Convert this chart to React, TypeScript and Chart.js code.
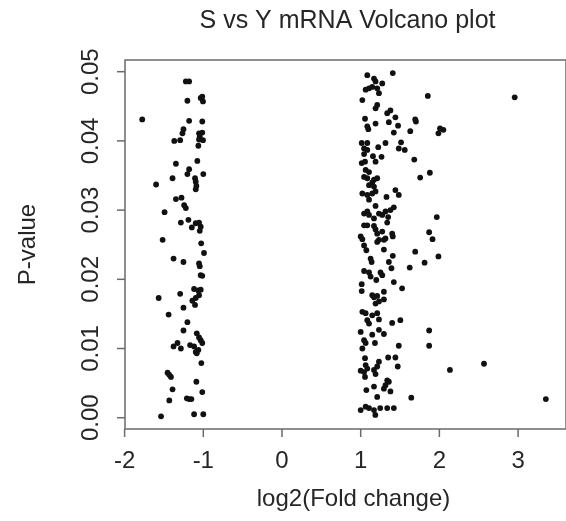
import React, { useEffect, useRef } from "react";
import { Chart, registerables } from "chart.js";

Chart.register(...registerables);

const titleText = "S vs Y mRNA Volcano plot";
const xTitle = "log2(Fold change)";
const yTitle = "P-value";

const xTicks = [-2, -1, 0, 1, 2, 3];
const xTickLabels = ["-2", "-1", "0", "1", "2", "3"];
const yTicks = [0, 0.01, 0.02, 0.03, 0.04, 0.05];
const yTickLabels = ["0.00", "0.01", "0.02", "0.03", "0.04", "0.05"];

// log2 fold change of down-regulated genes
const downFC = [
  -1.222, -1.18, -1.202, -1.033, -1.013, -1.004, -1.776, -1.18, -1.013, -1.252,
  -1.265, -1.054, -1.013, -1.045, -1.369, -1.294, -1.054, -1.004, -1.063, -1.348,
  -1.076, -1.18, -1.202, -1.0, -1.391, -1.6, -1.105, -1.096, -1.088, -1.096,
  -1.348, -1.277, -1.243, -1.222, -1.492, -1.285, -1.189, -1.146, -1.096, -1.054,
  -1.033, -1.045, -1.517, -1.027, -0.991, -1.378, -1.252, -1.054, -1.045, -1.033,
  -1.013, -1.567, -1.294, -1.117, -1.063, -1.033, -1.054, -1.096, -1.139, -1.105,
  -1.252, -1.441, -1.202, -1.252, -1.083, -1.054, -1.033, -1.013, -1.378, -1.328,
  -1.285, -1.168, -1.117, -1.096, -1.063, -1.083, -1.025, -1.454, -1.432, -1.411,
  -1.088, -1.391, -1.013, -1.432, -1.209, -1.18, -1.151, -1.537, -1.117, -1.0,
];
const downP = [
  0.0486, 0.0486, 0.0458, 0.0462, 0.0464, 0.0457, 0.0431, 0.0429, 0.0428, 0.0417,
  0.0411, 0.0411, 0.0412, 0.0406, 0.04, 0.0401, 0.0402, 0.0401, 0.0393, 0.0367,
  0.0371, 0.0359, 0.0352, 0.0352, 0.0346, 0.0337, 0.0346, 0.0341, 0.0335, 0.033,
  0.0316, 0.0318, 0.0307, 0.0303, 0.0297, 0.0282, 0.0286, 0.0275, 0.0281, 0.0282,
  0.0276, 0.027, 0.0257, 0.0252, 0.0238, 0.023, 0.0225, 0.0223, 0.0219, 0.0206,
  0.0205, 0.0173, 0.0179, 0.0186, 0.0184, 0.0185, 0.0177, 0.0173, 0.0169, 0.0163,
  0.0159, 0.0149, 0.0138, 0.0126, 0.0122, 0.0116, 0.0112, 0.0108, 0.0103, 0.0108,
  0.01, 0.0105, 0.0103, 0.0095, 0.0098, 0.0093, 0.0079, 0.0065, 0.0062, 0.0059,
  0.0052, 0.0041, 0.0037, 0.0025, 0.0028, 0.0027, 0.0027, 0.0002, 0.0005, 0.0005,
];

// log2 fold change of up-regulated genes
const upFC = [
  1.084, 1.408, 1.169, 1.189, 1.274, 1.063, 1.106, 1.147, 1.21, 1.232,
  1.021, 1.853, 1.21, 1.189, 1.337, 1.378, 1.055, 1.441, 1.189, 1.084,
  1.097, 1.358, 1.475, 1.693, 1.702, 1.63, 1.421, 1.013, 1.084, 1.043,
  1.084, 1.223, 1.315, 1.513, 1.484, 1.56, 1.043, 1.156, 1.265, 1.013,
  1.055, 1.189, 1.681, 1.063, 1.106, 1.043, 1.084, 1.169, 1.21, 1.756,
  1.879, 1.106, 1.147, 1.169, 1.021, 1.084, 1.147, 1.189, 1.106, 1.328,
  1.441, 1.484, 1.189, 1.421, 1.378, 1.043, 1.084, 1.106, 1.232, 1.274,
  1.315, 1.349, 1.169, 1.337, 1.043, 1.084, 1.169, 1.189, 1.21, 1.274,
  1.4, 1.408, 1.0, 1.021, 1.21, 1.232, 1.295, 1.315, 1.87, 1.043,
  1.072, 1.295, 1.693, 1.126, 1.139, 1.408, 1.358, 1.812, 1.623, 1.391,
  1.043, 1.106, 1.126, 1.252, 1.274, 1.198, 1.013, 1.421, 1.013, 1.526,
  1.295, 1.147, 1.169, 1.21, 1.295, 1.913, 1.988, 1.967, 1.189, 1.232,
  1.021, 1.063, 1.147, 1.21, 1.084, 1.106, 1.232, 1.4, 1.504, 1.0,
  1.147, 1.232, 1.295, 1.043, 1.063, 1.021, 1.181, 1.484, 1.87, 1.87,
  1.055, 1.349, 1.441, 1.232, 1.21, 1.063, 1.084, 1.0, 1.043, 1.169,
  1.189, 1.471, 1.055, 1.337, 1.358, 1.315, 1.295, 1.169, 1.072, 1.378,
  1.21, 1.643, 1.0, 1.063, 1.106, 1.169, 1.248, 1.337, 1.421, 1.186,
  2.957, 2.008, 2.051, 1.988, 2.134, 2.567, 3.353,
];
const upP = [
  0.0495, 0.0498, 0.049, 0.0486, 0.0483, 0.0474, 0.0476, 0.0478, 0.0476, 0.0469,
  0.0459, 0.0465, 0.0452, 0.0447, 0.044, 0.0444, 0.0432, 0.0434, 0.0425, 0.0421,
  0.0417, 0.0427, 0.0422, 0.0431, 0.0428, 0.0414, 0.0412, 0.0397, 0.0397, 0.0389,
  0.0387, 0.0391, 0.0397, 0.0398, 0.0389, 0.0387, 0.0381, 0.0378, 0.0377, 0.0368,
  0.037, 0.037, 0.0373, 0.0358, 0.0355, 0.0348, 0.0346, 0.0344, 0.0346, 0.0347,
  0.0354, 0.0336, 0.034, 0.0334, 0.0324, 0.0322, 0.0324, 0.0327, 0.0315, 0.0319,
  0.0329, 0.0322, 0.0306, 0.0304, 0.03, 0.0295, 0.0298, 0.0293, 0.0295, 0.0293,
  0.0298, 0.029, 0.0288, 0.0282, 0.0278, 0.0278, 0.0277, 0.0272, 0.0266, 0.0269,
  0.0266, 0.0262, 0.0262, 0.0258, 0.0254, 0.0257, 0.0257, 0.0259, 0.0268, 0.0249,
  0.0242, 0.0243, 0.024, 0.023, 0.0225, 0.0234, 0.0225, 0.0224, 0.0217, 0.0216,
  0.0212, 0.021, 0.0204, 0.021, 0.0206, 0.0199, 0.0193, 0.0196, 0.0183, 0.0187,
  0.0182, 0.0177, 0.0174, 0.0176, 0.0171, 0.0258, 0.0233, 0.029, 0.0165, 0.0168,
  0.0153, 0.0151, 0.0148, 0.0151, 0.0141, 0.0136, 0.0142, 0.0137, 0.0141, 0.0124,
  0.012, 0.0127, 0.0121, 0.0112, 0.0108, 0.01, 0.0108, 0.0104, 0.0126, 0.0104,
  0.0086, 0.0087, 0.0087, 0.0081, 0.0074, 0.0076, 0.0071, 0.0068, 0.0066, 0.0069,
  0.0063, 0.0074, 0.0059, 0.0054, 0.0052, 0.0047, 0.0042, 0.0045, 0.004, 0.0038,
  0.003, 0.0029, 0.0011, 0.0016, 0.0014, 0.0011, 0.0014, 0.0014, 0.0014, 0.0004,
  0.0463, 0.0418, 0.0416, 0.0411, 0.0069, 0.0078, 0.0027,
];

const FONT = "'Liberation Sans', Arial, Helvetica, sans-serif";
const TEXT_COLOR = "#262626";
const AXIS_COLOR = "#6a6a6a";

const rAxesPlugin = {
  id: "rAxes",
  afterDraw(chart: any) {
    const { ctx, chartArea, scales } = chart;
    const xs = scales.x;
    const ys = scales.y;
    ctx.save();
    // box
    ctx.strokeStyle = AXIS_COLOR;
    ctx.lineWidth = 1.5;
    ctx.strokeRect(chartArea.left, chartArea.top, chartArea.right - chartArea.left, chartArea.bottom - chartArea.top);

    // x ticks
    ctx.fillStyle = TEXT_COLOR;
    ctx.font = `24px ${FONT}`;
    ctx.textAlign = "center";
    ctx.textBaseline = "middle";
    xTicks.forEach((v, i) => {
      const px = xs.getPixelForValue(v);
      ctx.beginPath();
      ctx.moveTo(px, chartArea.bottom);
      ctx.lineTo(px, chartArea.bottom + 8);
      ctx.stroke();
      ctx.fillText(xTickLabels[i], px, chartArea.bottom + 32);
    });
    // y ticks
    yTicks.forEach((v, i) => {
      const py = ys.getPixelForValue(v);
      ctx.beginPath();
      ctx.moveTo(chartArea.left, py);
      ctx.lineTo(chartArea.left - 8, py);
      ctx.stroke();
      ctx.save();
      ctx.translate(chartArea.left - 34, py);
      ctx.rotate(-Math.PI / 2);
      ctx.fillText(yTickLabels[i], 0, 0);
      ctx.restore();
    });
    // axis titles
    ctx.font = `24px ${FONT}`;
    const cx = (chartArea.left + 566) / 2;
    ctx.fillText(xTitle, cx + 8, chartArea.bottom + 70);
    ctx.save();
    ctx.translate(28, (chartArea.top + chartArea.bottom) / 2);
    ctx.rotate(-Math.PI / 2);
    ctx.fillText(yTitle, 0, 0);
    ctx.restore();
    // title
    ctx.font = `25px ${FONT}`;
    ctx.fillText(titleText, cx + 2, 21);
    ctx.restore();
  },
};

export default function App() {
  const ref = useRef<HTMLCanvasElement | null>(null);
  useEffect(() => {
    if (!ref.current) return;
    const toPts = (xs: number[], ys: number[]) => xs.map((x, i) => ({ x, y: ys[i] }));
    const chart = new Chart(ref.current, {
      type: "scatter",
      data: {
        datasets: [
          {
            label: "down",
            data: toPts(downFC, downP),
            backgroundColor: "#111",
            borderWidth: 0,
            pointRadius: 2.9,
          },
          {
            label: "up",
            data: toPts(upFC, upP),
            backgroundColor: "#111",
            borderWidth: 0,
            pointRadius: 2.9,
          },
        ],
      },
      options: {
        animation: false,
        responsive: false,
        devicePixelRatio: 1,
        layout: { padding: { left: 125, top: 60, right: 4, bottom: 92 } },
        plugins: {
          legend: { display: false },
          tooltip: { enabled: false },
          title: { display: false },
        },
        scales: {
          x: { type: "linear", min: -1.995, max: 3.609, display: false },
          y: { type: "linear", min: -0.00163, max: 0.05169, display: false },
        },
      },
      plugins: [rAxesPlugin],
    });
    return () => chart.destroy();
  }, []);
  return (
    <div style={{ position: "absolute", left: 0, top: 0, width: 566, height: 521, overflow: "hidden", background: "#fff" }}>
      <canvas ref={ref} width={570} height={521} style={{ display: "block" }} />
    </div>
  );
}
